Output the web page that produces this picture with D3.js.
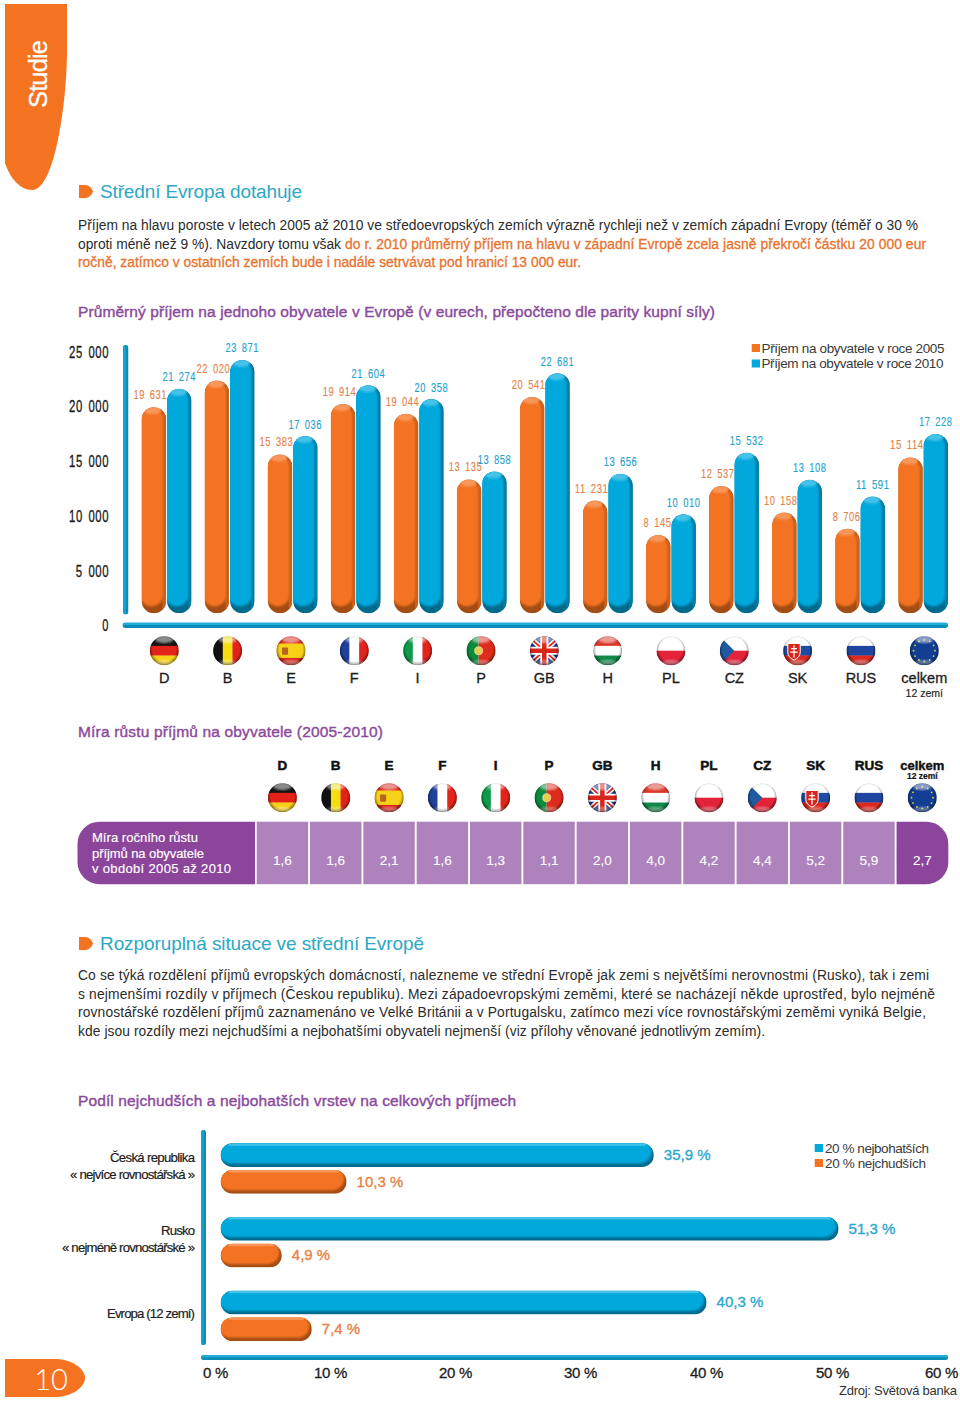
<!DOCTYPE html>
<html><head><meta charset="utf-8">
<script src="https://cdn.jsdelivr.net/npm/d3@7"></script>
<style>html,body{margin:0;padding:0;background:#fff}svg{display:block}text{font-family:"Liberation Sans",Arial,sans-serif}</style>
</head><body><svg id="c" width="960" height="1405"></svg>
<script>
// ---------- data ----------
const countryCodes = ["D","B","E","F","I","P","GB","H","PL","CZ","SK","RUS","celkem"];
const income2005 = [19631,22020,15383,19914,19044,13135,20541,11231,8145,12537,10158,8706,15114];
const income2010 = [21274,23871,17036,21604,20358,13858,22681,13656,10010,15532,13108,11591,17228];
const growthRates = ["1,6","1,6","2,1","1,6","1,3","1,1","2,0","4,0","4,2","4,4","5,2","5,9","2,7"];
const incomeTicks = [0,5000,10000,15000,20000,25000];
const shareGroups = ["cz","ru","eu"];
const richestShare = [35.9,51.3,40.3];
const poorestShare = [10.3,4.9,7.4];
const shareTicks = [0,10,20,30,40,50,60];
const seriesColors = {orange:"#F47321",blue:"#00A8DC"};

// ---------- helpers ----------
const svg = d3.select("#c");
const defs = svg.append("defs");
let uid = 0;
defs.append("filter").attr("id","b1").append("feGaussianBlur").attr("stdDeviation",1.3);
defs.append("filter").attr("id","b2").append("feGaussianBlur").attr("stdDeviation",0.7);
const pal = {
  orange:{main:"#F47321",dark:"#A34C14",edge:"#C9601C",light:"#F9975A"},
  blue:{main:"#00A8DC",dark:"#006A8C",edge:"#007BA3",light:"#45C2E8"}
};
function txt(x,y,s,o={}){
  const t = svg.append("text").attr("x",x).attr("y",y).text(s)
    .attr("font-size",o.size||13.5).attr("fill",o.fill||"#2b2b2b")
    .attr("text-anchor",o.anchor||"start").attr("dominant-baseline","central");
  if(o.len) t.attr("textLength",o.len).attr("lengthAdjust",o.adj||"spacing");
  if(o.stroke) t.attr("stroke",o.fill||"#2b2b2b").attr("stroke-width",o.stroke);
  if(o.weight) t.attr("font-weight",o.weight);
  if(o.family) t.style("font-family",o.family);
  return t;
}
function clip(x,y,w,h,r){
  const id="cp"+(uid++);
  defs.append("clipPath").attr("id",id).append("rect").attr("x",x).attr("y",y).attr("width",w).attr("height",h).attr("rx",r);
  return id;
}
function vPill(x,y,w,h,c){
  const p=pal[c], g=svg.append("g").attr("clip-path",`url(#${clip(x,y,w,h,w/2)})`);
  g.append("rect").attr("x",x).attr("y",y).attr("width",w).attr("height",h).attr("fill",p.dark);
  g.append("rect").attr("x",x+w-3.5).attr("y",y).attr("width",3.5).attr("height",h).attr("fill",p.edge).attr("filter","url(#b2)");
  g.append("rect").attr("x",x-2).attr("y",y+0.5).attr("width",w-0.5).attr("height",h-7.5).attr("rx",(w-1)/2)
    .attr("fill",p.main).attr("filter","url(#b1)");
  g.append("ellipse").attr("cx",x+w/2-1).attr("cy",y+3).attr("rx",w*0.36).attr("ry",4).attr("fill",p.light).attr("filter","url(#b1)");
  g.append("rect").attr("x",x+w-3).attr("y",y+8).attr("width",3).attr("height",h-20).attr("fill",p.edge).attr("opacity",.6).attr("filter","url(#b2)");
}
function hPill(x,y,w,h,c){
  const p=pal[c], g=svg.append("g").attr("clip-path",`url(#${clip(x,y,w,h,h/2)})`);
  g.append("rect").attr("x",x).attr("y",y).attr("width",w).attr("height",h).attr("fill",p.dark);
  g.append("rect").attr("x",x-2).attr("y",y-3).attr("width",w-0.5).attr("height",h-0.5).attr("rx",h/2).attr("fill",p.main).attr("filter","url(#b1)");
  g.append("rect").attr("x",x+8).attr("y",y).attr("width",w-16).attr("height",2.5).attr("fill",p.light).attr("filter","url(#b2)");
}
function axisBar(x,y,w,h){
  const g=svg.append("g").attr("clip-path",`url(#${clip(x,y,w,h,Math.min(w,h)/2)})`);
  g.append("rect").attr("x",x).attr("y",y).attr("width",w).attr("height",h).attr("fill","#0B8DB8");
  if(w>h) g.append("rect").attr("x",x).attr("y",y).attr("width",w).attr("height",h*.45).attr("fill","#22AEDB");
  else g.append("rect").attr("x",x).attr("y",y).attr("width",w*.55).attr("height",h).attr("fill","#13A3D2");
}
// round flags
function flag(code,cx,cy,r){
  const id="fc"+(uid++);
  defs.append("clipPath").attr("id",id).append("circle").attr("cx",cx).attr("cy",cy).attr("r",r);
  const g=svg.append("g").attr("clip-path",`url(#${id})`);
  const L=cx-r,T=cy-r,S=2*r;
  const rect=(x,y,w,h,f)=>g.append("rect").attr("x",L+x*S).attr("y",T+y*S).attr("width",w*S).attr("height",h*S).attr("fill",f);
  const hs=(a)=>a.forEach((f,i)=>rect(0,i/a.length,1,1/a.length+.01,f));
  const vs=(a)=>a.forEach((f,i)=>rect(i/a.length,0,1/a.length+.01,1,f));
  if(code==="D") hs(["#151515","#E2231A","#F7D117"]);
  if(code==="B") vs(["#111","#F5DD0F","#E2231A"]);
  if(code==="E"){rect(0,0,1,1,"#D9261C");rect(0,.25,1,.5,"#F7D117");
    g.append("rect").attr("x",cx-r*.62).attr("y",cy-r*.22).attr("width",r*.42).attr("height",r*.5).attr("rx",1).attr("fill","#B5651D");}
  if(code==="F") vs(["#20409A","#fff","#E2231A"]);
  if(code==="I") vs(["#0E9A48","#fff","#E2231A"]);
  if(code==="P"){rect(0,0,.42,1,"#0E8A3C");rect(.42,0,.6,1,"#DD2B1C");
    g.append("circle").attr("cx",L+.42*S).attr("cy",cy).attr("r",r*.28).attr("fill","#EBCB4B").attr("stroke","#fff").attr("stroke-width",.5);}
  if(code==="GB"){rect(0,0,1,1,"#20367E");
    const ln=(x1,y1,x2,y2,f,w)=>g.append("line").attr("x1",L+x1*S).attr("y1",T+y1*S).attr("x2",L+x2*S).attr("y2",T+y2*S).attr("stroke",f).attr("stroke-width",w);
    ln(0,.05,1,.95,"#fff",5);ln(1,.05,0,.95,"#fff",5);ln(0,.05,1,.95,"#D9261C",1.8);ln(1,.05,0,.95,"#D9261C",1.8);
    ln(.5,0,.5,1,"#fff",8);ln(0,.5,1,.5,"#fff",8);ln(.5,0,.5,1,"#D9261C",4.5);ln(0,.5,1,.5,"#D9261C",4.5);}
  if(code==="H") hs(["#D9382A","#fff","#11884A"]);
  if(code==="PL") hs(["#fff","#E2233A"]);
  if(code==="CZ"){hs(["#fff","#E2233A"]);
    g.append("path").attr("d",`M${L},${T}L${cx},${cy}L${L},${T+S}Z`).attr("fill","#1F5AA0");}
  if(code==="SK"){hs(["#fff","#1F4CA3","#DC2A20"]);
    g.append("path").attr("d",`M${cx-r*.68},${cy-r*.5}h${r*.86}v${r*.6}q0,${r*.35} -${r*.43},${r*.55}q-${r*.43},-${r*.2} -${r*.43},-${r*.55}z`).attr("fill","#D9261C").attr("stroke","#fff").attr("stroke-width",1);
    g.append("path").attr("d",`M${cx-r*.25},${cy-r*.38}v${r*.85}M${cx-r*.45},${cy-r*.15}h${r*.4}M${cx-r*.5},${cy+r*.1}h${r*.5}`).attr("stroke","#fff").attr("stroke-width",1.2);}
  if(code==="RUS") hs(["#fff","#1F45A0","#DC2A20"]);
  if(code==="celkem"){rect(0,0,1,1,"#123F94");
    d3.range(12).forEach(i=>{const a=i*Math.PI/6;g.append("circle").attr("cx",cx+Math.cos(a)*r*.74).attr("cy",cy+Math.sin(a)*r*.74).attr("r",.9).attr("fill","#E6D53A");});}
  // gloss
  g.append("circle").attr("cx",cx).attr("cy",cy).attr("r",r).attr("fill","url(#rim)");
  g.append("ellipse").attr("cx",cx).attr("cy",cy-r*.78).attr("rx",r*.62).attr("ry",r*.26).attr("fill","#fff").attr("opacity",.5).attr("filter","url(#b1)");
  g.append("ellipse").attr("cx",cx).attr("cy",cy+r*.8).attr("rx",r*.6).attr("ry",r*.18).attr("fill","#fff").attr("opacity",.32).attr("filter","url(#b1)");
}
const rim=defs.append("radialGradient").attr("id","rim").attr("cx","50%").attr("cy","46%").attr("r","56%");
rim.append("stop").attr("offset","72%").attr("stop-color","#000").attr("stop-opacity",0);
rim.append("stop").attr("offset","100%").attr("stop-color","#000").attr("stop-opacity",.62);

// ---------- page furniture ----------
const PUR="#8B4A9C", ORG="#E8722C", TEAL="#2CA8C4", DK="#2b2b2b";
svg.append("path").attr("d","M5,4H67V50C67,100 55,190 32,190C20,190 10,178 5,163Z").attr("fill","#F47321");
txt(0,0,"Studie",{size:25.5,fill:"#fff",anchor:"middle",len:68,stroke:.3}).attr("transform","translate(38,74) rotate(-90)");
const arrow=(y)=>svg.append("path").attr("d",`M79,${y}H85C89,${y} 92,${y+3} 93,${y+6.5}C92,${y+10} 89,${y+13} 85,${y+13}H79Z`).attr("fill","#F47321");
arrow(185); txt(100,191.5,"Střední Evropa dotahuje",{size:19,fill:TEAL,len:202});
txt(78,225.5,"Příjem na hlavu poroste v letech 2005 až 2010 ve středoevropských zemích výrazně rychleji než v zemích západní Evropy (téměř o 30 %",{size:13.8,len:840});
txt(78,244,"oproti méně než 9 %). Navzdory tomu však",{size:13.8,len:263});
txt(345,244,"do r. 2010 průměrný příjem na hlavu v západní Evropě zcela jasně překročí částku 20 000 eur",{size:13.8,fill:ORG,stroke:.3,len:581});
txt(78,262.5,"ročně, zatímco v ostatních zemích bude i nadále setrvávat pod hranicí 13 000 eur.",{size:13.8,fill:ORG,stroke:.3,len:503});
txt(78,311,"Průměrný příjem na jednoho obyvatele v Evropě (v eurech, přepočteno dle parity kupní síly)",{size:15.5,fill:PUR,stroke:.4,len:637});

// ---------- chart 1: income bars ----------
const yBar = d3.scaleLinear().domain([0,25000]).range([625.6,347.4]);
const yTick = d3.scaleLinear().domain([0,25000]).range([625,351.5]);
const xGroup = d3.scalePoint().domain(countryCodes).range([141.7,898.3]);
const xFlag = d3.scalePoint().domain(countryCodes).range([164.3,924.3]);
const barBase = 613.3, barW = 24.4, pairGap = 25.3;
const space0 = v => d3.format(",")(v).replace(/,/g," ");

const axL = svg.append("g").attr("transform","translate(109,0)").call(d3.axisLeft(yTick).tickValues(incomeTicks).tickFormat(space0).tickSize(0).tickPadding(0));
axL.select(".domain").remove();
axL.selectAll("text").attr("font-size",16.5).attr("fill","#1c1c1c").attr("dy",".35em")
  .attr("stroke","#1c1c1c").attr("stroke-width",.35).style("word-spacing","3px").style("letter-spacing","0.8px")
  .attr("lengthAdjust","spacingAndGlyphs").attr("textLength",d=>space0(d).length*6.65);
axisBar(123,345,5.5,269.5);
axisBar(122.5,622.5,825.5,5.5);

countryCodes.forEach((c,i)=>{
  const x=xGroup(c), y0=yBar(income2005[i]), y1=yBar(income2010[i]);
  vPill(x,y0,barW,barBase-y0,"orange");
  vPill(x+pairGap,y1,barW,barBase-y1,"blue");
});
const labelFit = s => s.length*5.6;
countryCodes.forEach((c,i)=>{
  const x=xGroup(c), y0=yBar(income2005[i]), y1=yBar(income2010[i]);
  const a=space0(income2005[i]), b=space0(income2010[i]);
  txt(x+barW+1,y0-12.5,a,{size:13.5,fill:"#E5824A",anchor:"end",len:labelFit(a),adj:"spacingAndGlyphs",stroke:.15}).style("word-spacing","2.5px").style("letter-spacing","0.8px");
  txt(x+pairGap+barW/2,y1-12,b,{size:13.5,fill:"#1FA3CC",anchor:"middle",len:labelFit(b),adj:"spacingAndGlyphs",stroke:.15}).style("word-spacing","2.5px").style("letter-spacing","0.8px");
  const fx=xFlag(c);
  flag(c,fx,650.7,14.5);
  txt(fx,678,c,{size:14.5,fill:"#1c1c1c",anchor:"middle",stroke:.3});
});
txt(xFlag("celkem"),693,"12 zemí",{size:10.5,fill:"#1c1c1c",anchor:"middle",stroke:.15});
[["orange","Příjem na obyvatele v roce 2005",348,183],["blue","Příjem na obyvatele v roce 2010",363.5,182]].forEach(([k,s,y,len])=>{
  svg.append("rect").attr("x",751.7).attr("y",y-4).attr("width",8.3).attr("height",8).attr("fill",seriesColors[k]);
  txt(761.5,y,s,{size:13.5,fill:"#3a3a3a",len});
});

// ---------- growth table ----------
txt(78,731.5,"Míra růstu příjmů na obyvatele (2005-2010)",{size:15.5,fill:PUR,stroke:.4,len:305});
const xCell = d3.scaleBand().domain(countryCodes).range([256.7,948]).paddingInner(0.035).paddingOuter(0);
const CY=821.7, CH=62.5, CR=22;
svg.append("path").attr("d",`M255,${CY}V${CY+CH}H${77.5+CR}A${CR},${CR} 0 0 1 77.5,${CY+CH-CR}V${CY+CR}A${CR},${CR} 0 0 1 ${77.5+CR},${CY}Z`).attr("fill","#8B459B");
[["Míra ročního růstu",837,106],["příjmů na obyvatele",853,112],["v období 2005 až 2010",868,139]].forEach(([s,y,len])=>txt(92,y,s,{size:13,fill:"#fff",len,stroke:.15}));
countryCodes.forEach((c,i)=>{
  const x=xCell(c), w=xCell.bandwidth(), cx=x+w/2;
  if(c==="celkem"){
    const R=x+w+0.3;
    svg.append("path").attr("d",`M${x},${CY}H${R-CR}A${CR},${CR} 0 0 1 ${R},${CY+CR}V${CY+CH-CR}A${CR},${CR} 0 0 1 ${R-CR},${CY+CH}H${x}Z`).attr("fill","#8B459B");
  } else {
    svg.append("rect").attr("x",x).attr("y",CY).attr("width",w).attr("height",CH).attr("fill","#AE82BC");
  }
  txt(cx,860,growthRates[i],{size:13.5,fill:"#fff",anchor:"middle",stroke:.1});
  flag(c,cx,797.7,14.5);
  if(c==="celkem"){
    txt(cx,765,c,{size:13,fill:"#111",anchor:"middle",weight:"bold",stroke:.4});
    txt(cx,776,"12 zemí",{size:8.5,fill:"#111",anchor:"middle",weight:"bold",stroke:.2});
  } else {
    txt(cx,765.5,c,{size:13.5,fill:"#111",anchor:"middle",weight:"bold",stroke:.5});
  }
});

// ---------- second text block ----------
arrow(937); txt(100,943.5,"Rozporuplná situace ve střední Evropě",{size:19,fill:TEAL,len:324});
[["Co se týká rozdělení příjmů evropských domácností, nalezneme ve střední Evropě jak zemi s největšími nerovnostmi (Rusko), tak i zemi",975.5,851],
 ["s nejmenšími rozdíly v příjmech (Českou republiku). Mezi západoevropskými zeměmi, které se nacházejí někde uprostřed, bylo nejméně",994.5,857],
 ["rovnostářské rozdělení příjmů zaznamenáno ve Velké Británii a v Portugalsku, zatímco mezi více rovnostářskými zeměmi vyniká Belgie,",1012.5,848],
 ["kde jsou rozdíly mezi nejchudšími a nejbohatšími obyvateli nejmenší (viz přílohy věnované jednotlivým zemím).",1031.5,687]
].forEach(([s,y,len])=>txt(78,y,s,{size:13.8,len}));

// ---------- chart 2: share bars ----------
txt(78,1100.5,"Podíl nejchudších a nejbohatších vrstev na celkových příjmech",{size:15.5,fill:PUR,stroke:.4,len:438});
const xShare = d3.scaleLinear().domain([0,60]).range([223,943]);
const xShareTick = d3.scaleLinear().domain(shareTicks).range([215,330,455,580,706,832,941]);
const yShare = d3.scalePoint().domain(shareGroups).range([1143.3,1290.7]);
const shareH = 23.7, startX = 220.7;
axisBar(201,1130,5,215);
axisBar(201,1355,747,5);
shareGroups.forEach((g,i)=>{
  const y=yShare(g);
  const xr=xShare(richestShare[i]), xp=xShare(poorestShare[i]);
  hPill(startX,y,xr-startX,shareH,"blue");
  hPill(startX,y+26.7,xp-startX,shareH,"orange");
  const fmt=v=>d3.format(".1f")(v).replace(".",",")+" %";
  txt(xr+10,y+11,fmt(richestShare[i]),{size:15,fill:"#2BA8CF",stroke:.35});
  txt(xp+10,y+37.8,fmt(poorestShare[i]),{size:15,fill:"#E8813F",stroke:.35});
});
const axB = svg.append("g").attr("transform","translate(0,1373)").call(d3.axisBottom(xShareTick).tickValues(shareTicks).tickFormat(d=>d+" %").tickSize(0).tickPadding(0));
axB.select(".domain").remove();
axB.selectAll("text").attr("font-size",15).attr("fill","#1c1c1c").attr("dy",".35em").attr("stroke","#1c1c1c").attr("stroke-width",.3).style("letter-spacing","-0.3px");
[["Česká republika",1157,85,110],["« nejvíce rovnostářská »",1174,125,70],["Rusko",1230,34,161],["« nejméně rovnostářské »",1247,133,62],["Evropa (12 zemí)",1313,88,106]].forEach(([s,y,len])=>txt(195,y,s,{size:13.2,fill:"#1c1c1c",anchor:"end",len,stroke:.2}));
[["blue","20 % nejbohatších",1148,104],["orange","20 % nejchudších",1163,101]].forEach(([k,s,y,len])=>{
  svg.append("rect").attr("x",814.7).attr("y",y-4).attr("width",8.3).attr("height",8).attr("fill",seriesColors[k]);
  txt(825,y,s,{size:13.5,fill:"#3a3a3a",len});
});
txt(957,1390,"Zdroj: Světová banka",{size:13,fill:"#333",anchor:"end",len:118});
svg.append("path").attr("d","M5,1359H55C72,1359 85,1369 85,1378C85,1387 72,1397 55,1397H5Z").attr("fill","#F47321");
txt(51,1378,"10",{size:29,fill:"#fff",anchor:"middle",family:'Lato,"Liberation Sans",sans-serif',weight:300});
</script></body></html>
